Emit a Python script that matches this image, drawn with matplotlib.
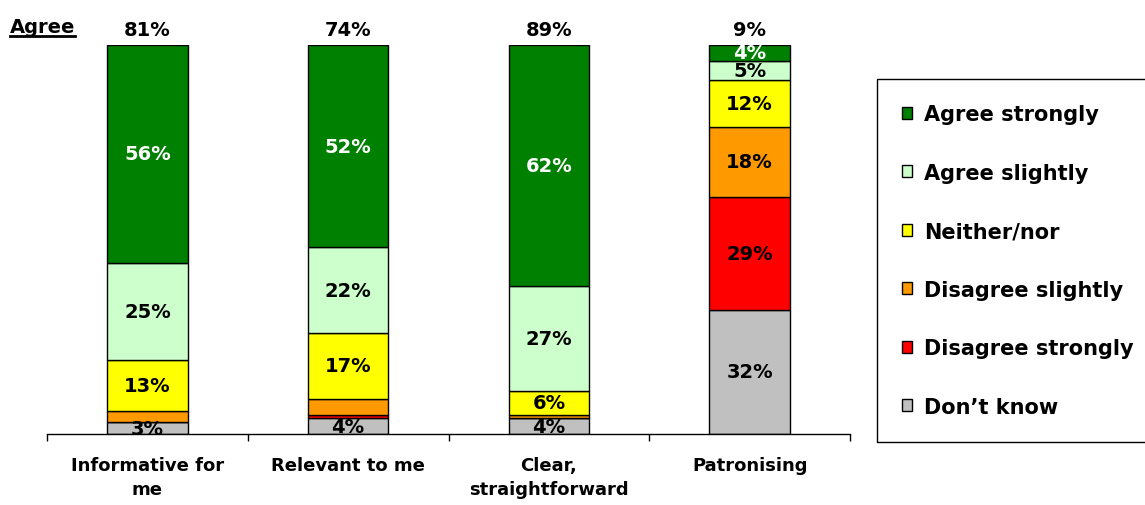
import matplotlib.pyplot as plt
from matplotlib.patches import Patch
from matplotlib.lines import Line2D

categories = ['Informative for\nme', 'Relevant to me', 'Clear,\nstraightforward', 'Patronising']

# stacked from the bottom up
dont_know = [3, 4, 4, 32]
disagree_strongly = [0, 1, 0, 29]
disagree_slightly = [3, 4, 1, 18]
neither_nor = [13, 17, 6, 12]
agree_slightly = [25, 22, 27, 5]
agree_strongly = [56, 52, 62, 4]

series = [
    ('Don’t know', dont_know, '#C0C0C0', 'black'),
    ('Disagree strongly', disagree_strongly, '#FF0000', 'black'),
    ('Disagree slightly', disagree_slightly, '#FF9900', 'black'),
    ('Neither/nor', neither_nor, '#FFFF00', 'black'),
    ('Agree slightly', agree_slightly, '#CCFFCC', 'black'),
    ('Agree strongly', agree_strongly, '#008000', 'white'),
]

agree_total = [a + b for a, b in zip(agree_strongly, agree_slightly)]

plt.rcParams['font.family'] = 'DejaVu Sans'
plt.rcParams['font.weight'] = 'bold'

fig = plt.figure(figsize=(11.45, 5.06), dpi=100)
ax = fig.add_axes([47 / 1145, 1 - 435 / 506, 803 / 1145, 389 / 506])

x = [i + 0.5 for i in range(len(categories))]
bottom = [0] * len(categories)
for name, vals, color, txt_color in series:
    ax.bar(x, vals, width=0.4, bottom=bottom, color=color,
           edgecolor='black', linewidth=1)
    for xi, b, v in zip(x, bottom, vals):
        small_disagree = name.startswith('Disagree') and v < 5
        if v >= 3 and not small_disagree:
            ax.text(xi, b + v / 2, f'{v}%', ha='center', va='center',
                    fontsize=14, fontweight='bold', color=txt_color)
    bottom = [b + v for b, v in zip(bottom, vals)]

# agree totals above each bar
for xi, t in zip(x, agree_total):
    ax.text(xi, 104, f'{t}%', ha='center', va='center', fontsize=14,
            fontweight='bold', clip_on=False)

ax.set_xlim(0, 4)
ax.set_ylim(0, 100)
for side in ['left', 'right', 'top']:
    ax.spines[side].set_visible(False)
ax.spines['bottom'].set_linewidth(1)
ax.set_yticks([])
ax.set_xticks(range(len(categories) + 1))
ax.set_xticklabels([])
ax.tick_params(axis='x', which='major', direction='out', length=5, width=1)
ax.set_xticks(x, minor=True)
ax.set_xticklabels(categories, minor=True, fontsize=13, fontweight='bold',
                   linespacing=1.4, va='top')
ax.tick_params(axis='x', which='minor', length=0, pad=16)

# legend, top entry first; runs off the right edge
handles = [Patch(facecolor=c, edgecolor='black', linewidth=1)
           for _, _, c, _ in series[::-1]]
labels = [n for n, _, _, _ in series[::-1]]
leg = fig.legend(handles, labels, loc='upper left', mode='expand',
                 bbox_to_anchor=(877 / 1145, 1 - 438 / 506,
                                 300 / 1145, 358 / 506),
                 prop={'size': 15, 'weight': 'bold'},
                 handlelength=0.5, handleheight=0.5, handletextpad=0.55,
                 labelspacing=1.85, borderpad=1.2, borderaxespad=0,
                 fancybox=False, framealpha=1, edgecolor='black')
leg.get_frame().set_linewidth(1)

# underlined heading
head = fig.text(10 / 1145, 1 - 33 / 506, 'Agree', fontsize=14,
                fontweight='bold', ha='left', va='baseline')
fig.canvas.draw()
bb = head.get_window_extent().transformed(fig.transFigure.inverted())
fig.add_artist(Line2D([bb.x0, bb.x1], [1 - 37 / 506, 1 - 37 / 506],
                      transform=fig.transFigure, color='black', linewidth=2))

fig.savefig('out.png', dpi=100)
